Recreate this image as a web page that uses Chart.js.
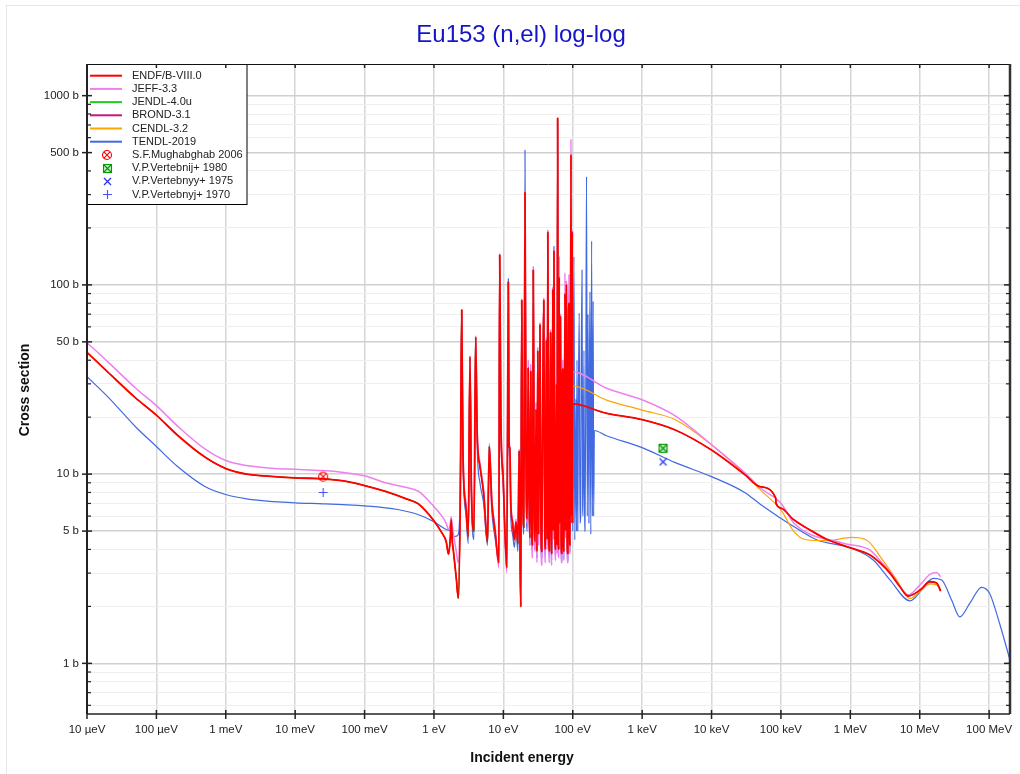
<!DOCTYPE html>
<html><head><meta charset="utf-8">
<script src="https://cdn.jsdelivr.net/npm/chart.js@4.4.1/dist/chart.umd.min.js"></script>
<style>html,body{margin:0;padding:0;background:#fff}#wrap{width:1020px;height:774px}</style>
</head><body><div id="wrap"><canvas id="c" width="1020" height="774"></canvas></div>
<script>
const FONT = "'Liberation Sans', Arial, Helvetica, sans-serif";
const chartTitle = 'Eu153 (n,el) log-log';
const xAxisTitle = 'Incident energy';
const yAxisTitle = 'Cross section';

const xTickValues = [1e-5,1e-4,1e-3,1e-2,1e-1,1,10,100,1e3,1e4,1e5,1e6,1e7,1e8];
const xTickLabels = ['10 µeV','100 µeV','1 meV','10 meV','100 meV','1 eV','10 eV','100 eV','1 keV','10 keV','100 keV','1 MeV','10 MeV','100 MeV'];
const yTickValues = [0.6,0.7,0.8,0.9,1,2,3,4,5,6,7,8,9,10,20,30,40,50,60,70,80,90,100,200,300,400,500,600,700,800,900,1000];
const yMajorValues = [1,5,10,50,100,500,1000];
const yMajorLabels = ['1 b','5 b','10 b','50 b','100 b','500 b','1000 b'];

const seriesNames = ['ENDF/B-VIII.0','JEFF-3.3','JENDL-4.0u','BROND-3.1','CENDL-3.2','TENDL-2019'];
const seriesColors = ['#ff0000','#ee80ee','#22cc22','#c71585','#ffa500','#4169e1'];
const expNames = ['S.F.Mughabghab 2006','V.P.Vertebnij+ 1980','V.P.Vertebnyy+ 1975','V.P.Vertebnyj+ 1970'];

// [energy (eV), cross section (b)]
const endfThermal = [[1e-5,44],[2e-5,34.6],[5e-5,25.3],[1e-4,20.5],[2e-4,16.1],[5e-4,12.3],[1e-3,10.7],[2e-3,10.0],[5e-3,9.7],[1e-2,9.55],[0.0253,9.45],[0.05,9.2],[0.1,8.7],[0.2,8.1],[0.4,7.4],[0.6,6.95],[1.0,5.66],[1.3,4.89],[1.5,4.4],[1.62,3.78],[1.72,4.6],[1.77,5.74],[1.84,4.4],[1.9,3.97],[2.1,2.8],[2.24,2.21],[2.4,8]];
const endfRes = [[2.51,73.8],[2.62,12.6],[2.9,6.6],[3.12,4.7],[3.3,41.7],[3.45,9],[3.77,5.0],[3.99,53],[4.2,16],[4.6,11],[5.2,7.9],[5.9,4.4],[6.27,14],[6.8,7.2],[7.6,5],[8.6,3.4],[8.85,144],[9.2,20],[9.9,9.8],[11.2,3.2],[11.8,104],[12.1,14],[12.4,13.8],[12.8,7],[13.6,5.5],[14.4,4.5],[15.2,5.6],[16.2,4.3],[16.9,13.2],[17.4,4],[17.8,1.99],[18.4,83],[19.0,9],[19.8,5.2],[20.5,309],[21.2,12],[22.1,5.8],[22.8,36.4],[23.5,7.5],[24.2,4.6],[24.8,35],[25.6,5.5],[26.4,4.2],[27.0,120],[27.8,8],[28.8,4.4],[29.6,22],[30.5,3.9],[31.3,45],[32.2,4.8],[33.7,61.5],[34.8,5.4],[35.8,3.9],[37,25],[38.2,83],[39.5,5],[40.5,4],[41.8,51],[42.8,4.5],[43.7,190],[45,5.5],[46.2,3.9],[47.9,56],[49,4.3],[50,3.8],[51.5,95],[52.5,5],[53.6,151],[55.5,4.6],[57,4],[58.5,30],[59.5,4.2],[60.5,762],[62,5],[62.8,4],[63.8,110],[65,5.5],[66.5,68],[68,4.5],[69.5,3.8],[70.5,30],[72,36],[73.5,4.2],[75,3.9],[77.2,90],[79,5],[81,100],[83,4.6],[85,3.8],[86.5,45],[88.2,80],[90,5],[92,4.2],[94.2,488],[96,6],[98.4,191],[99.5,5.5]];
const endfFast = [[100,23.5],[300,21],[1000,19.4],[3000,17.1],[1e4,13.4],[3e4,9.95],[4.98e4,8.59],[8.4e4,7.5],[8.5e4,7.0],[1.02e5,6.6],[1.5e5,5.77],[2.62e5,5.07],[4.55e5,4.53],[1.04e6,4.06],[1.92e6,3.74],[2.67e6,3.4],[3.72e6,3.0],[5.19e6,2.54],[6.83e6,2.27],[1.01e7,2.44],[1.4e7,2.7],[1.75e7,2.66],[2e7,2.41]];

const jeffThermal = [[1e-5,49.5],[2e-5,39.2],[5e-5,28.5],[1e-4,23],[2e-4,18],[5e-4,13.6],[1e-3,11.8],[2e-3,11.1],[5e-3,10.7],[1e-2,10.6],[0.0253,10.45],[0.05,10.2],[0.1,9.8],[0.2,9.0],[0.4,8.5],[0.6,8.1],[1.0,6.73],[1.3,6.0],[1.5,5.5],[1.62,5.1],[1.72,5.5],[1.77,5.95],[1.84,5.3],[1.9,4.88],[2.1,3.9],[2.24,3.39],[2.4,8]];
const jeffRes = [[2.51,72],[2.62,13],[2.9,7],[3.12,5.0],[3.3,42],[3.45,9.5],[3.77,5.3],[3.99,54],[4.2,17],[4.6,11.5],[5.2,8.2],[5.9,4.6],[6.27,14.5],[6.8,7.5],[7.6,5.2],[8.6,3.2],[8.85,146],[9.2,21],[9.9,10],[11.2,3.0],[11.8,104],[12.1,15],[12.4,14],[12.8,7.2],[13.6,5.7],[14.4,4.6],[15.2,5.8],[16.2,4.4],[16.9,13.5],[17.4,3.8],[17.8,2.6],[18.4,84],[19.0,9.5],[19.8,5.4],[20.5,312],[21.2,12],[22.1,5.5],[22.8,40],[23.5,7],[24.2,4.2],[24.8,38],[25.6,5],[26.4,3.6],[27,125],[27.8,7.5],[28.8,3.9],[29.6,24],[30.5,3.4],[31.3,47],[32.2,4.2],[33.7,63],[34.8,5],[35.8,3.3],[37,27],[38.2,85],[39.5,4.5],[40.5,3.4],[41.8,53],[42.8,4],[43.7,195],[45,5],[46.2,3.4],[47.9,58],[49,3.9],[50,3.3],[51.5,98],[52.5,4.5],[53.6,152],[55.5,4.2],[57,3.5],[58.5,33],[59.5,3.8],[60.5,740],[62,4.6],[62.8,3.6],[63.8,142],[65,5],[66.5,70],[68,4],[69.5,3.4],[70.5,33],[72,40],[73.5,3.8],[75,3.5],[77.2,116],[79,4.6],[81,105],[83,4.2],[85,3.4],[86.5,50],[88.2,113],[90,4.6],[92,3.8],[94.2,590],[96,6],[98.4,195],[99.5,5.5]];
const jeffFast = [[100,34.8],[300,28.5],[1000,24.7],[3000,20.3],[1e4,14.3],[3e4,10.2],[4.98e4,8.5],[1.02e5,6.96],[1.54e5,5.5],[7.9e5,4.31],[1.92e6,3.97],[2.67e6,3.5],[3.72e6,3.05],[5.19e6,2.55],[6.83e6,2.3],[1.01e7,2.6],[1.4e7,2.95],[1.75e7,3.02],[2e7,2.87]];

const cendlFast = [[100,29.3],[300,24.7],[1000,21.8],[3000,19.4],[1e4,14.3],[3e4,10.0],[4.98e4,8.3],[1.02e5,6.4],[1.54e5,4.97],[2.29e5,4.5],[4.55e5,4.45],[1.04e6,4.63],[1.71e6,4.49],[2.95e6,3.5],[4.65e6,2.76],[7.23e6,2.2],[1.01e7,2.4],[1.4e7,2.63],[1.75e7,2.6],[2e7,2.46]];

const tendlThermal = [[1e-5,32.7],[2e-5,25.6],[5e-5,17.8],[1e-4,14],[2e-4,11],[5e-4,8.6],[1e-3,7.8],[2e-3,7.4],[5e-3,7.15],[1e-2,7.05],[0.0253,6.97],[0.05,6.9],[0.1,6.8],[0.3,6.5],[0.6,6.1],[1.0,5.6],[1.5,5.1],[1.77,4.97],[1.9,4.66],[2.1,4.7],[2.24,4.8],[2.4,9]];
const tendlRes = [[2.51,73],[2.62,12],[2.9,6],[3.12,4.3],[3.3,41],[3.45,8.5],[3.77,4.5],[3.99,52],[4.2,14],[4.6,9],[5.2,7],[5.9,4.2],[6.27,13],[6.8,6.5],[7.6,4.6],[8.6,3.6],[8.85,140],[9.2,18],[9.9,9],[11.2,3.4],[11.8,108],[12.1,13],[12.4,12],[12.8,6],[13.6,4.8],[14.4,4.1],[15.2,5],[16.2,3.9],[16.9,11],[17.4,3.5],[17.8,2.3],[18.4,80],[19.0,8],[19.8,4.8],[20.5,516],[21.2,11],[22.1,5],[22.8,33],[23.5,6.5],[24.2,4.2],[24.8,30],[25.6,5],[26.4,3.9],[27.0,110],[27.8,7],[28.8,4],[29.6,20],[30.5,3.6],[31.3,40],[32.2,4.4],[33.7,55],[34.8,5],[35.8,3.6],[37,22],[38.2,75],[39.5,4.6],[40.5,3.7],[41.8,46],[42.8,4.2],[43.7,170],[45,5],[46.2,3.7],[47.9,50],[49,4],[50,3.5],[51.5,90],[52.5,4.6],[53.6,160],[55.5,4.3],[57,3.7],[58.5,27],[59.5,4],[60.5,700],[62,4.6],[62.8,3.7],[63.8,100],[65,5],[66.5,60],[68,4.2],[69.5,3.5],[70.5,27],[72,33],[73.5,3.9],[75,3.6],[77.2,85],[79,4.6],[81,90],[83,4.3],[85,3.5],[86.5,40],[88.2,75],[90,4.6],[92,3.9],[94.2,450],[96,5.5],[98.4,175],[100,5],[104,141],[107,4.5],[111,25],[113,5],[115,40],[118,5],[121,30],[124,71],[127,5.5],[130,6],[133,45],[136,120],[139,6.5],[141,6],[145,45],[148,5],[150,5],[154,25],[158,374],[162,6],[166,70],[171,5.5],[174,30],[177,92],[182,4.8],[187,171],[192,6],[197,82],[200,6]];
const tendlFast = [[205,17.0],[300,16],[1000,13.8],[3000,11.5],[1e4,9.7],[3e4,8.0],[4.98e4,6.96],[1.68e5,5.17],[3.26e5,4.5],[1.04e6,4.06],[2.14e6,3.52],[3.72e6,2.76],[7.23e6,2.14],[1.57e7,2.81],[2.07e7,2.76],[2.88e7,2.16],[3.79e7,1.76],[5.29e7,2.08],[7.8e7,2.52],[1.02e8,2.34],[1.15e8,2.08],[1.51e8,1.5],[2e8,1.04]];

const mughabghab2006 = [[0.0253,9.7]];
const vertebnij1980 = [[2000,13.7]];
const vertebnyy1975 = [[2000,11.6]];
const vertebnyj1970 = [[0.0253,8.0]];

const toPts = arr => arr.map(p => ({x: p[0], y: p[1]}));
const endfAll = [...endfThermal, ...endfRes, ...endfFast];
const seriesData = [
  endfAll,
  [...jeffThermal, ...jeffRes, ...jeffFast],
  endfAll,
  endfAll,
  [...endfThermal, ...endfRes, ...cendlFast],
  [...tendlThermal, ...tendlRes, ...tendlFast]
];
const seriesWidths = [1.8, 1.5, 1, 1, 1.2, 1.2];

function mk(size, draw) { const cv = document.createElement('canvas'); cv.width = cv.height = size; const g = cv.getContext('2d'); draw(g, size / 2); return cv; }
const mCircleX = mk(12, (g, c) => { g.strokeStyle = '#ff0000'; g.lineWidth = 1.1; g.beginPath(); g.arc(c, c, 4.5, 0, Math.PI * 2); g.stroke(); const d = 3.1; g.beginPath(); g.moveTo(c - d, c - d); g.lineTo(c + d, c + d); g.moveTo(c + d, c - d); g.lineTo(c - d, c + d); g.stroke(); });
const mSquareX = mk(11, (g, c) => { g.fillStyle = '#c8f0c8'; g.fillRect(1, 1, 9, 9); g.strokeStyle = '#009900'; g.lineWidth = 1.1; g.strokeRect(1.5, 1.5, 8, 8); g.beginPath(); g.moveTo(1.5, 1.5); g.lineTo(9.5, 9.5); g.moveTo(9.5, 1.5); g.lineTo(1.5, 9.5); g.stroke(); });
const mX = mk(9, (g, c) => { g.strokeStyle = '#2233ee'; g.lineWidth = 1.2; g.beginPath(); g.moveTo(1, 1); g.lineTo(8, 8); g.moveTo(8, 1); g.lineTo(1, 8); g.stroke(); });
const mPlus = mk(11, (g, c) => { g.strokeStyle = '#4455ff'; g.lineWidth = 1.1; g.beginPath(); g.moveTo(c, 1); g.lineTo(c, 10); g.moveTo(1, c); g.lineTo(10, c); g.stroke(); });
const expMarkers = [mCircleX, mSquareX, mX, mPlus];
const expData = [mughabghab2006, vertebnij1980, vertebnyy1975, vertebnyj1970];

const datasets = seriesNames.map((n, i) => ({
  label: n, data: toPts(seriesData[i]), borderColor: seriesColors[i], backgroundColor: seriesColors[i],
  borderWidth: seriesWidths[i], pointRadius: 0, pointHoverRadius: 0, cubicInterpolationMode: 'monotone', fill: false,
  borderJoinStyle: 'bevel', order: 0
}));
expNames.forEach((n, i) => datasets.push({
  label: n, data: toPts(expData[i]), showLine: false, pointStyle: expMarkers[i], pointRadius: 5, order: -1
}));

function line(c, x1, y1, x2, y2) { c.beginPath(); c.moveTo(x1, y1); c.lineTo(x2, y2); c.stroke(); }

const decor = {
  id: 'decor',
  beforeDraw(chart) {
    const c = chart.ctx; c.save();
    c.fillStyle = '#fff'; c.fillRect(0, 0, chart.width, chart.height);
    c.strokeStyle = '#e6e6e6'; c.lineWidth = 1; c.strokeRect(6.5, 5.5, chart.width, chart.height + 10);
    c.restore();
  },
  afterDatasetsDraw(chart) {
    const c = chart.ctx, a = chart.chartArea; c.save();
    const w = 160, h = 140;
    c.fillStyle = '#fff'; c.fillRect(a.left, a.top, w, h);
    c.strokeStyle = '#000'; c.lineWidth = 1; c.strokeRect(a.left + 0.5, a.top + 0.5, w - 0.5, h);
    c.font = `11px ${FONT}`; c.fillStyle = '#222'; c.textBaseline = 'middle'; c.textAlign = 'left';
    const all = chart.data.datasets;
    all.forEach((ds, i) => {
      const y = a.top + 11.7 + i * 13.2;
      if (i < seriesNames.length) {
        c.strokeStyle = ds.borderColor; c.lineWidth = 2; line(c, a.left + 3, y, a.left + 35, y);
      } else {
        const m = ds.pointStyle; c.drawImage(m, Math.round(a.left + 20 - m.width / 2), Math.round(y - m.height / 2));
      }
      c.fillText(ds.label, a.left + 45, y);
    });
    c.restore();
  },
  afterDraw(chart) {
    const c = chart.ctx, a = chart.chartArea, sx = chart.scales.x, sy = chart.scales.y; c.save();
    c.strokeStyle = '#111'; c.lineWidth = 1; line(c, a.left, a.top + 0.5, a.right, a.top + 0.5);
    c.strokeStyle = '#333'; c.lineWidth = 2.5; line(c, a.right, a.top, a.right, a.bottom);
    c.strokeStyle = '#222'; c.lineWidth = 1.5; line(c, a.left, a.bottom, a.right, a.bottom);
    c.lineWidth = 2; line(c, a.left, a.top, a.left, a.bottom);
    c.lineWidth = 1.5;
    xTickValues.forEach(v => { const px = sx.getPixelForValue(v); line(c, px, a.bottom - 4, px, a.bottom + 5); line(c, px, a.top, px, a.top + 4); });
    yTickValues.forEach(v => {
      const py = sy.getPixelForValue(v); const major = yMajorValues.includes(v);
      c.lineWidth = major ? 1.5 : 1.2;
      if (major) { line(c, a.left - 5, py, a.left + 5, py); line(c, a.right - 6, py, a.right, py); }
      else { line(c, a.left, py, a.left + 4, py); line(c, a.right - 4, py, a.right, py); }
    });
    c.textAlign = 'center'; c.textBaseline = 'middle';
    c.font = `24px ${FONT}`; c.fillStyle = '#1515c8'; c.fillText(chartTitle, 521, 35);
    c.font = `bold 14px ${FONT}`; c.fillStyle = '#111'; c.fillText(xAxisTitle, 522, 758);
    c.translate(25, 390); c.rotate(-Math.PI / 2); c.fillText(yAxisTitle, 0, 0);
    c.restore();
  }
};

new Chart(document.getElementById('c'), {
  type: 'line',
  data: { datasets },
  options: {
    responsive: false, animation: false, devicePixelRatio: 1,
    layout: { padding: { top: 64, right: 10, left: 0, bottom: 0 } },
    plugins: { legend: { display: false }, title: { display: false }, tooltip: { enabled: false } },
    scales: {
      x: {
        type: 'logarithmic', min: 1e-5, max: 2e8,
        afterBuildTicks: s => { s.ticks = xTickValues.map(v => ({ value: v })); },
        afterFit: s => { s.height = 60; s.paddingLeft = 0; s.paddingRight = 0; },
        ticks: { autoSkip: false, maxRotation: 0, minRotation: 0, padding: 9, color: '#222', font: { family: FONT, size: 11.5 },
          callback: (v, i) => xTickLabels[i] },
        grid: { drawTicks: false, color: '#d6d6d6', lineWidth: 1.5 },
        border: { display: false }
      },
      y: {
        type: 'logarithmic', min: 0.54, max: 1470,
        afterBuildTicks: s => { s.ticks = yTickValues.map(v => ({ value: v })); },
        afterFit: s => { s.width = 87; s.paddingTop = 0; s.paddingBottom = 0; },
        ticks: { autoSkip: false, padding: 8, color: '#222', font: { family: FONT, size: 11.5 },
          callback: v => { const k = yMajorValues.indexOf(v); return k >= 0 ? yMajorLabels[k] : ''; } },
        grid: { drawTicks: false,
          color: ctx => (ctx.tick && yMajorValues.includes(ctx.tick.value)) ? '#d0d0d0' : '#efefef',
          lineWidth: ctx => (ctx.tick && yMajorValues.includes(ctx.tick.value)) ? 1.5 : 1 },
        border: { display: false }
      }
    }
  },
  plugins: [decor]
});
</script></body></html>
